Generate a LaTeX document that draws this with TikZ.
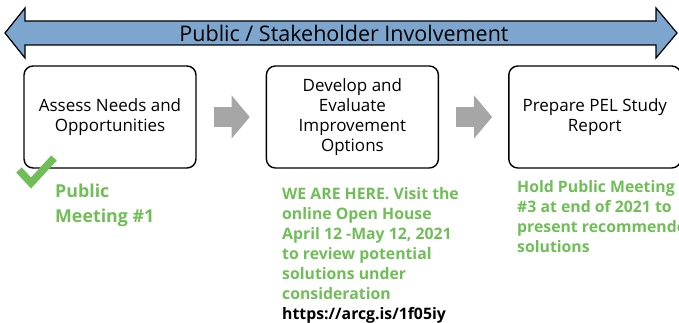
\documentclass[tikz,border=0pt]{standalone}
\usepackage{fontspec}
\setmainfont{Open Sans}
\usetikzlibrary{positioning,arrows.meta}
\definecolor{bandblue}{RGB}{125,166,206}
\definecolor{notegreen}{RGB}{112,190,88}
\definecolor{stepgray}{RGB}{166,166,166}

\begin{document}
\begin{tikzpicture}[
    x=1pt, y=-1pt,
    node distance=69pt,
    stage/.style={draw, line width=1.4pt, rounded corners=9pt, align=center, font=\fontsize{17}{20}\selectfont, minimum width=172pt, minimum height=102pt, inner sep=0pt},
    note/.style={align=left, anchor=north west, inner sep=0pt, text=notegreen, font=\bfseries\fontsize{15.8}{20}\selectfont},
    bignote/.style={note, font=\bfseries\fontsize{17.8}{24.5}\selectfont},
    flow/.style={-{Triangle[width=43pt,length=18pt,line width=0pt]}, line width=20pt, draw=stepgray, fill=stepgray, shorten <=17pt, shorten >=16pt},
    tick/.style={draw=notegreen, line width=7.5pt}
]
\useasboundingbox (0,0) rectangle (679,323);

% Involvement band
\draw[fill=bandblue, line width=1.2pt] (5,33) -- (25,8) -- (25,21) -- (656,21) -- (656,8) -- (677,33) -- (656,58) -- (656,45) -- (25,45) -- (25,58) -- cycle;
\node[font=\fontsize{21.5}{24}\selectfont] (band) at (344,33) {Public / Stakeholder Involvement};

% Study steps
\node[stage] (assess) at (110,117) {Assess Needs and\\Opportunities};
\node[stage, right=of assess] (develop) {Develop and\\Evaluate\\Improvement\\Options};
\node[stage, right=of develop] (prepare) {Prepare PEL Study\\Report};

\draw[flow] (assess) -- (develop);
\draw[flow] (develop) -- (prepare);

% Meeting notes
\draw[tick] (19,170) -- (31,183) -- (54,158);
\node[bignote] (meeting1) at (55,184) {Public\\Meeting \#1};
\node[note] (openhouse) at (282,187) {WE ARE HERE. Visit the\\online Open House\\April 12 -May 12, 2021\\to review potential\\solutions under\\consideration\\\textcolor{black}{https://arcg.is/1f05iy}};
\node[note] (meeting3) at (517,180) {Hold Public Meeting\\\#3 at end of 2021 to\\present recommended\\solutions};
\end{tikzpicture}
\end{document}
